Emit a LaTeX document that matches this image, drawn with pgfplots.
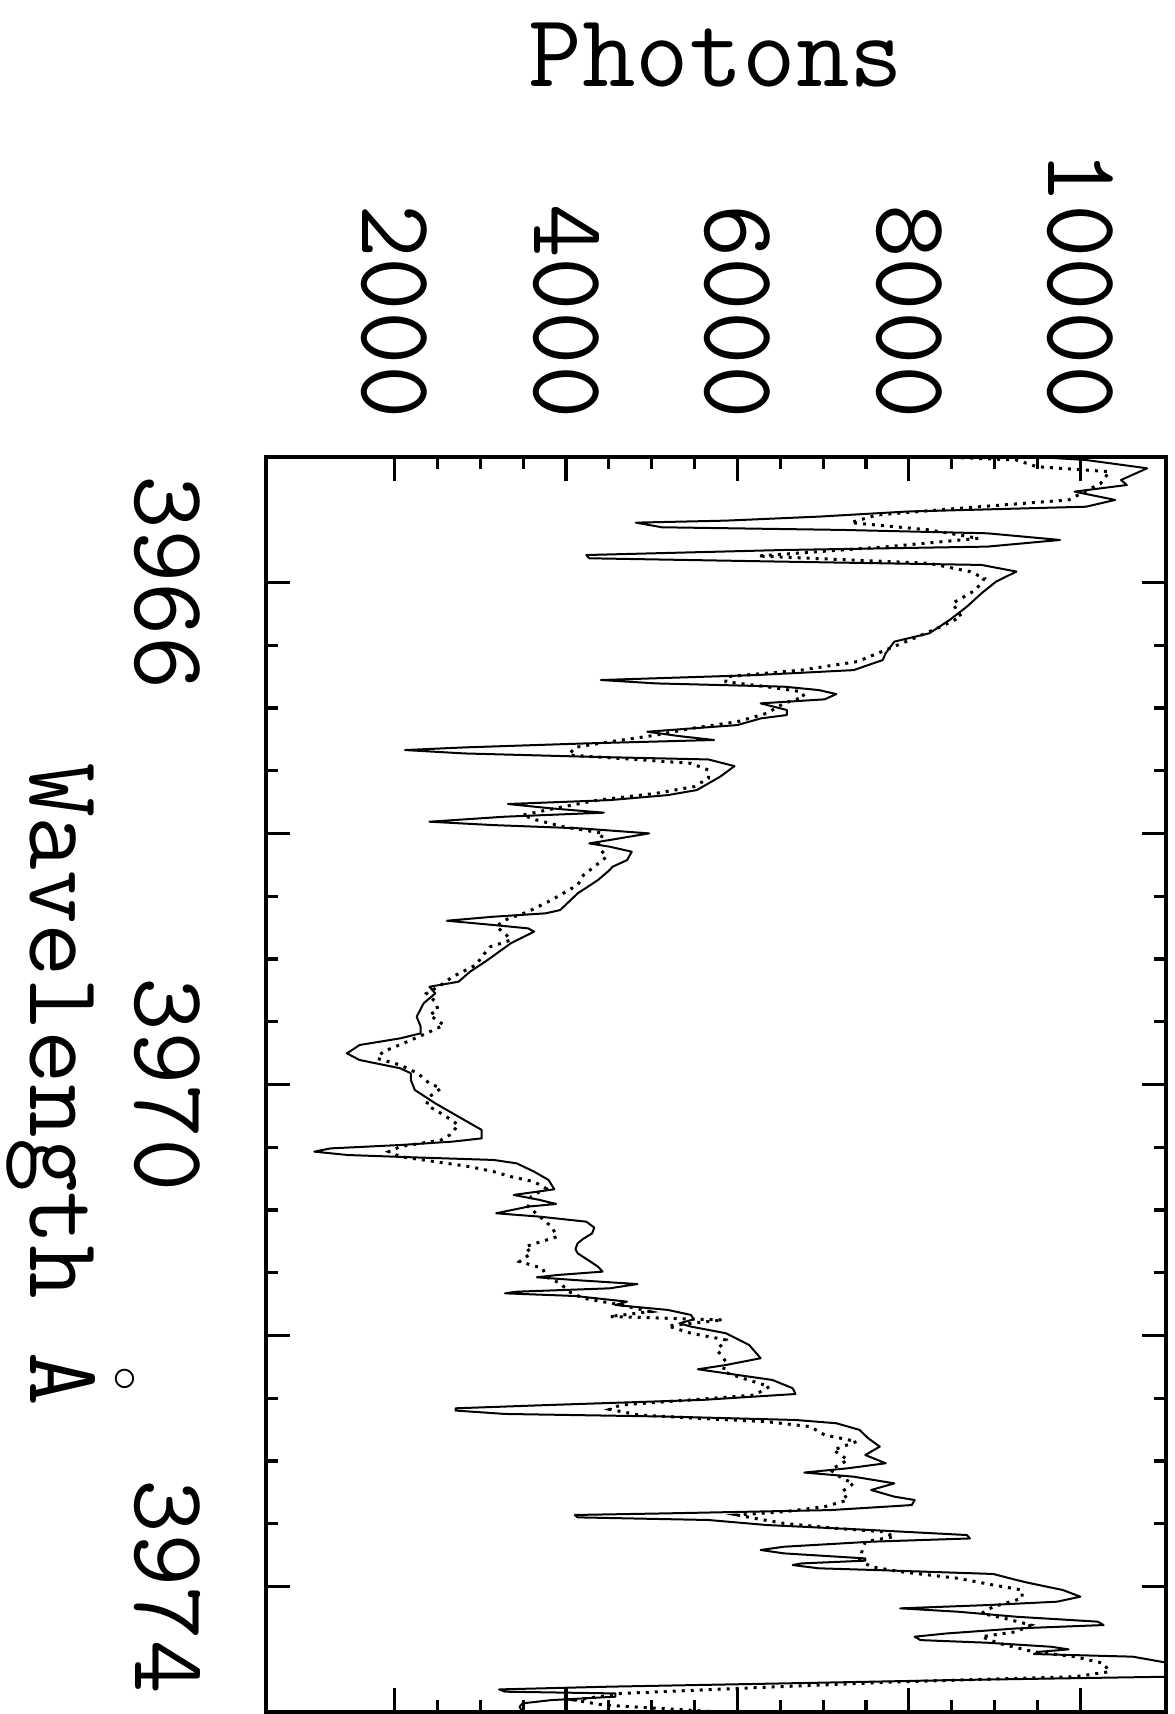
\documentclass[border=0pt]{standalone}
\usepackage{fontspec}
\usepackage{pgfplots}
\usepackage{pgfplotstable}
\pgfplotsset{compat=1.18}
\newcommand\bigtt{\fontsize{52}{52}\selectfont\ttfamily}

% observed spectrum (solid): wavelength, photons
\pgfplotstableread{
lam P
3965.000 9500
3965.024 10068
3965.090 10780
3965.183 10475
3965.223 10543
3965.276 9933
3965.342 10407
3965.396 10068
3965.435 7966
3965.475 6949
3965.507 5865
3965.523 4814
3965.560 5119
3965.581 7221
3965.608 8916
3965.661 9763
3965.714 8916
3965.741 6543
3965.781 4237
3965.807 4271
3965.834 6543
3965.860 8848
3965.913 9255
3965.993 9017
3966.086 8848
3966.192 8678
3966.299 8475
3966.405 8238
3966.471 7831
3966.564 7729
3966.618 7695
3966.698 7356
3966.738 6204
3966.777 4407
3966.804 5051
3966.830 6543
3966.857 6949
3966.889 7153
3966.931 7017
3966.963 6271
3967.016 6577
3967.056 6577
3967.083 6271
3967.136 6000
3967.163 5458
3967.189 4949
3967.224 5322
3967.255 5729
3967.282 4237
3967.314 2814
3967.335 2122
3967.362 2814
3967.388 4237
3967.410 5661
3967.463 5966
3967.548 5797
3967.654 5526
3967.694 5187
3967.734 4509
3967.765 3322
3967.800 3831
3967.834 4441
3967.866 3288
3967.906 2407
3967.933 3153
3967.959 4170
3967.999 4970
3968.052 4509
3968.079 4271
3968.105 4509
3968.145 4767
3968.212 4712
3968.265 4543
3968.291 4509
3968.371 4373
3968.477 4136
3968.610 3932
3968.636 3763
3968.663 3153
3968.695 2610
3968.729 3153
3968.756 3559
3968.782 3627
3968.875 3356
3969.008 3085
3969.101 2881
3969.181 2746
3969.221 2407
3969.274 2475
3969.353 2339
3969.460 2258
3969.539 2305
3969.592 2305
3969.632 2068
3969.685 1593
3969.752 1444
3969.805 1593
3969.871 2068
3969.911 2190
3969.964 2190
3970.044 2237
3970.150 2475
3970.283 2814
3970.362 3017
3970.429 3017
3970.455 2678
3970.482 2068
3970.509 1254
3970.535 1064
3970.562 1458
3970.580 2203
3970.601 3153
3970.628 3424
3970.694 3627
3970.761 3797
3970.835 3864
3970.880 3390
3970.920 3695
3970.952 3885
3970.973 3559
3971.026 3186
3971.053 3695
3971.093 4237
3971.140 4330
3971.186 4305
3971.230 4200
3971.265 4136
3971.310 4110
3971.345 4136
3971.400 4260
3971.451 4373
3971.491 4427
3971.518 3898
3971.536 3661
3971.558 4102
3971.590 4834
3971.624 4509
3971.651 3424
3971.664 3288
3971.685 4102
3971.730 4712
3971.757 4576
3971.796 5187
3971.836 5458
3971.871 5492
3971.903 5322
3971.929 5458
3971.982 5865
3972.075 6136
3972.181 6271
3972.235 5865
3972.269 5539
3972.301 5865
3972.354 6407
3972.420 6644
3972.466 6678
3972.513 5593
3972.553 3831
3972.580 2712
3972.598 2712
3972.625 3288
3972.646 5187
3972.673 6678
3972.699 7153
3972.752 7424
3972.819 7526
3972.885 7661
3972.952 7492
3973.018 7729
3973.058 7288
3973.092 6780
3973.125 7356
3973.178 7831
3973.231 7560
3973.284 7831
3973.311 8068
3973.351 8034
3973.391 7085
3973.417 5187
3973.430 4102
3973.449 4136
3973.470 5661
3973.510 6339
3973.550 7560
3973.590 8678
3973.617 8712
3973.643 7560
3973.683 6543
3973.709 6271
3973.736 6543
3973.776 7492
3973.794 7492
3973.816 6746
3973.829 6644
3973.855 6949
3973.869 7627
3973.900 8983
3973.948 9255
3973.970 9390
3974.028 9797
3974.081 10000
3974.121 9729
3974.148 8916
3974.174 7899
3974.201 8577
3974.241 9255
3974.280 10204
3974.307 10272
3974.334 9255
3974.374 8441
3974.400 8068
3974.427 8136
3974.448 8916
3974.480 9661
3974.501 9865
3974.520 9526
3974.538 9458
3974.559 10611
3974.612 11050
3974.660 11150
3974.719 11000
3974.745 8577
3974.772 6543
3974.798 4509
3974.820 3220
3974.838 3288
3974.852 4577
3974.878 4577
3974.905 3831
3974.931 3492
3974.958 3458
3975.000 3492
}\solidtab

% model spectrum (dotted)
\pgfplotstableread{
lam P
3965.000 8400
3965.024 9255
3965.077 9492
3965.117 10339
3965.210 10238
3965.342 9865
3965.409 8577
3965.462 7627
3965.523 7322
3965.581 8238
3965.648 8814
3965.714 7763
3965.789 6238
3965.847 8238
3965.913 8712
3965.967 8882
3966.060 8780
3966.166 8509
3966.272 8611
3966.352 8373
3966.432 8102
3966.538 7729
3966.630 7400
3966.698 6746
3966.751 5865
3966.791 5865
3966.830 6339
3966.870 6746
3966.910 6780
3966.963 6543
3967.043 6339
3967.109 6000
3967.163 5458
3967.216 5051
3967.269 4509
3967.314 4102
3967.375 4034
3967.415 4915
3967.441 5458
3967.494 5661
3967.561 5661
3967.627 5492
3967.680 5051
3967.734 4373
3967.787 3966
3967.853 3492
3967.893 3661
3967.946 3966
3967.999 4441
3968.066 4373
3968.132 4407
3968.185 4475
3968.278 4305
3968.331 4204
3968.410 4136
3968.530 3831
3968.623 3559
3968.689 3288
3968.742 3186
3968.796 3288
3968.849 3356
3968.902 3119
3968.955 3051
3969.048 2949
3969.141 2678
3969.207 2542
3969.274 2373
3969.340 2475
3969.406 2508
3969.446 2407
3969.526 2576
3969.592 2373
3969.672 2102
3969.739 1864
3969.792 1797
3969.845 2068
3969.911 2271
3969.991 2407
3970.030 2542
3970.097 2407
3970.163 2373
3970.243 2576
3970.323 2746
3970.402 2644
3970.442 2542
3970.495 2068
3970.535 1932
3970.575 2068
3970.615 2475
3970.655 2881
3970.694 3153
3970.734 3356
3970.774 3627
3970.827 3763
3970.894 3593
3970.973 3559
3971.053 3695
3971.133 3831
3971.212 3898
3971.292 3525
3971.345 3593
3971.411 3458
3971.465 3729
3971.531 3763
3971.584 3932
3971.651 4034
3971.703 4204
3971.757 4644
3971.810 4983
3971.849 4509
3971.876 5831
3971.924 5187
3971.982 5458
3972.035 5865
3972.115 5763
3972.208 5865
3972.288 5831
3972.341 6068
3972.407 6373
3972.474 6204
3972.513 5458
3972.553 4644
3972.588 4509
3972.633 4848
3972.660 5526
3972.686 6339
3972.726 6848
3972.792 7017
3972.845 7390
3972.912 7119
3972.992 7288
3973.071 7085
3973.138 7221
3973.178 7356
3973.244 7221
3973.311 7288
3973.364 7017
3973.404 6543
3973.430 6000
3973.457 6204
3973.497 6543
3973.537 7153
3973.563 7695
3973.603 7831
3973.643 7492
3973.709 7458
3973.789 7424
3973.842 7560
3973.882 7899
3973.935 8577
3973.988 8983
3974.028 9322
3974.094 9322
3974.161 8983
3974.214 8848
3974.254 9119
3974.307 9424
3974.360 9255
3974.400 8848
3974.453 9051
3974.520 9458
3974.559 9933
3974.612 10272
3974.679 10339
3974.719 9933
3974.759 7899
3974.812 6000
3974.852 4644
3974.905 4102
3974.945 4441
3975.000 5800
}\dottab

\begin{document}
\begin{tikzpicture}
\begin{axis}[
    at={(0,0)}, anchor=south west,
    scale only axis, width=450pt, height=627.5pt,
    xmin=500, xmax=11000, ymin=3965, ymax=3975, y dir=reverse,
    axis line style={line width=1.6pt},
    every tick/.style={black, line width=1.6pt},
    major tick length=12pt, minor tick length=6pt,
    tick align=inside,
    xtick={2000,4000,...,10000}, minor x tick num=3,
    ytick={3966,3968,...,3974}, yticklabels={3966,,3970,,3974},
    minor y tick num=3,
    xticklabel pos=upper, xtick pos=both, ytick pos=both,
    scaled x ticks=false,
    /pgf/number format/1000 sep={},
    /pgf/number format/assume math mode=true,
    tick label style={font=\bigtt, inner sep=0pt},
    x tick label style={rotate=-90, anchor=east},
    xticklabel shift=19pt,
    y tick label style={rotate=-90, anchor=north},
    yticklabel shift=32.5pt,
    xlabel={Photons},
    ylabel={Wavelength A\llap{\makebox[27.3pt]{\raisebox{41pt}{\fontsize{26}{26}\selectfont$\circ$}}}},
    every axis x label/.style={at={(axis description cs:0.5,1.2955)}, anchor=base, font=\bigtt, inner sep=0pt},
    every axis y label/.style={at={(axis description cs:-0.2622,0.5)}, rotate=-90, anchor=base, font=\bigtt, inner sep=0pt},
]
\addplot[black, line width=1pt, line join=round] table[x=P, y=lam] {\solidtab};
\addplot[black, line width=1.5pt, dash pattern=on 1.5pt off 3pt] table[x=P, y=lam] {\dottab};
\end{axis}
\pgfresetboundingbox
\path (current axis.south west) ++(-133pt,-1pt) rectangle ++(587pt,857pt);
\end{tikzpicture}
\end{document}
